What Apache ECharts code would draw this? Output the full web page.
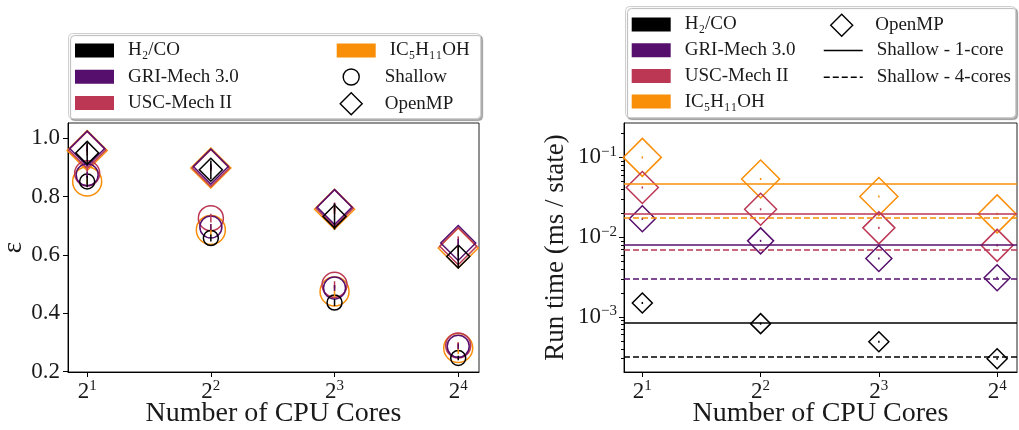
<!DOCTYPE html>
<html>
<head>
<meta charset="utf-8">
<script src="https://cdn.jsdelivr.net/npm/echarts@6/dist/echarts.min.js"></script>
<style>
html, body { margin: 0; padding: 0; background: #fff; }
#main { width: 1019px; height: 430px; }
</style>
</head>
<body>
<div id="main"></div>
<script>
// data
var cores = [2, 4, 8, 16];
var mechs = ['H₂/CO', 'GRI-Mech 3.0', 'USC-Mech II', 'IC₅H₁₁OH'];
var colors = ['#000000', '#560f6d', '#bb3754', '#f98e09'];

// parallel efficiency (left)
var effShallow = [
    [0.852, 0.658, 0.437, 0.247],
    [0.875, 0.696, 0.487, 0.287],
    [0.880, 0.726, 0.498, 0.290],
    [0.852, 0.686, 0.475, 0.281]
];
var effShallowErr = [
    [0.020, 0.012, 0.012, 0.008],
    [0.010, 0.010, 0.010, 0.010],
    [0.015, 0.015, 0.012, 0.010],
    [0.010, 0.020, 0.020, 0.020]
];
var effOmp = [
    [0.950, 0.892, 0.732, 0.595],
    [0.965, 0.903, 0.764, 0.641],
    [0.960, 0.898, 0.760, 0.630],
    [0.958, 0.898, 0.757, 0.624]
];
var effOmpErr = [
    [0.035, 0.032, 0.045, 0.040],
    [0.010, 0.010, 0.012, 0.015],
    [0.020, 0.010, 0.020, 0.034],
    [0.008, 0.006, 0.010, 0.010]
];

// run time, ms / state (right)
var timeOmp = [
    [0.00150, 0.000826, 0.00049, 0.00030],
    [0.0170, 0.0090, 0.0054, 0.0031],
    [0.0420, 0.0224, 0.0131, 0.0079],
    [0.1000, 0.0537, 0.0324, 0.0196]
];
var timeShallow1 = [0.00084, 0.0081, 0.0197, 0.047];
var timeShallow4 = [0.00032, 0.0030, 0.0069, 0.0173];

var effTicks = [0.2, 0.4, 0.6, 0.8, 1.0];
var timeTicks = [0.001, 0.01, 0.1];
var timeMinor = [];
[0.0001, 0.001, 0.01, 0.1].forEach(function (d) {
    for (var k = 2; k <= 9; k++) timeMinor.push(d * k);
});

var circleSize = [15, 22, 25, 29];
var diamondSizeL = [23, 35, 37, 40];
var diamondSizeR = [20, 26, 32, 38];

var FONT = 'Liberation Serif';
var TXT = '#1a1a1a';
var DIAMOND = 'path://M10,0L20,10L10,20L0,10Z';
var LOG_LO = -3.689, LOG_HI = -0.569;
var RIGHT_W = 393;

function expLabel(base, e) {
    return '{b|' + base + '}{e|' + e + '}';
}
var richTick = {
    b: { fontFamily: FONT, fontSize: 23, color: TXT, lineHeight: 26 },
    e: { fontFamily: FONT, fontSize: 15, color: TXT, lineHeight: 15, verticalAlign: 'top' }
};

function xAxisFor(grid) {
    return {
        type: 'log', logBase: 2, gridIndex: grid,
        min: Math.pow(2, 0.845), max: Math.pow(2, 4.168),
        name: 'Number of CPU Cores', nameLocation: 'middle', nameGap: 28, nameMoveOverlap: false,
        nameTextStyle: { fontFamily: FONT, fontSize: 28, color: TXT },
        axisLine: { show: true, onZero: false, lineStyle: { color: '#000', width: 1 } },
        axisTick: { show: true, length: 5, customValues: cores, lineStyle: { color: '#000' } },
        axisLabel: {
            customValues: cores, margin: 7, rich: richTick,
            formatter: function (v) { return expLabel('2', Math.round(Math.log2(v))); }
        },
        splitLine: { show: false }, minorTick: { show: false }
    };
}

function errBars(xi, yi, pts, color) {
    return {
        type: 'custom', xAxisIndex: xi, yAxisIndex: yi, silent: true, z: 4,
        data: pts,
        renderItem: function (params, api) {
            var a = api.coord([api.value(0), api.value(1)]);
            var b = api.coord([api.value(0), api.value(2)]);
            return {
                type: 'line',
                shape: { x1: a[0], y1: a[1], x2: b[0], y2: b[1] },
                style: { stroke: color, lineWidth: 1.5 }
            };
        }
    };
}

var series = [];
// draw orange first so black ends on top
for (var i = mechs.length - 1; i >= 0; i--) {
    var c = colors[i];
    var shallowPts = [], ompPts = [], errS = [], errO = [], timePts = [], errT = [];
    for (var j = 0; j < cores.length; j++) {
        shallowPts.push([cores[j], effShallow[i][j]]);
        ompPts.push([cores[j], effOmp[i][j]]);
        errS.push([cores[j], effShallow[i][j] - effShallowErr[i][j], effShallow[i][j] + effShallowErr[i][j]]);
        errO.push([cores[j], effOmp[i][j] - effOmpErr[i][j], effOmp[i][j] + effOmpErr[i][j]]);
        timePts.push([cores[j], timeOmp[i][j]]);
        errT.push([cores[j], timeOmp[i][j] * 0.97, timeOmp[i][j] * 1.03]);
    }
    var hollow = { color: 'rgba(0,0,0,0)', borderColor: c, borderWidth: 1.5, opacity: 1 };
    series.push({
        name: mechs[i], type: 'scatter', xAxisIndex: 0, yAxisIndex: 0,
        symbol: 'circle', symbolSize: circleSize[i], itemStyle: hollow, data: shallowPts, z: 3
    });
    series.push({
        name: mechs[i], type: 'scatter', xAxisIndex: 0, yAxisIndex: 0,
        symbol: 'diamond', symbolSize: diamondSizeL[i], itemStyle: hollow, data: ompPts, z: 3
    });
    series.push(errBars(0, 0, errS, c));
    series.push(errBars(0, 0, errO, c));
    series.push({
        name: mechs[i], type: 'scatter', xAxisIndex: 1, yAxisIndex: 1,
        symbol: 'diamond', symbolSize: diamondSizeR[i], itemStyle: hollow, data: timePts, z: 3,
        markLine: {
            silent: true, symbol: 'none', label: { show: false }, animation: false, precision: 8,
            emphasis: { disabled: true },
            data: [
                { yAxis: timeShallow1[i], lineStyle: { color: c, width: 1.5, type: 'solid', opacity: 1 } },
                { yAxis: timeShallow4[i], lineStyle: { color: c, width: 1.5, type: [6, 3], opacity: 1 } }
            ]
        }
    });
    series.push(errBars(1, 1, errT, c));
}
// legend-only entries
series.push({ name: 'Shallow', type: 'scatter', xAxisIndex: 0, yAxisIndex: 0, symbol: 'circle', data: [] });
series.push({ name: 'OpenMP', type: 'scatter', xAxisIndex: 0, yAxisIndex: 0, symbol: 'diamond', data: [] });
series.push({ name: 'Shallow - 1-core', type: 'line', xAxisIndex: 1, yAxisIndex: 1, symbol: 'none', data: [],
    itemStyle: { color: '#000' }, lineStyle: { color: '#000', width: 1.5, type: 'solid' } });
series.push({ name: 'Shallow - 4-cores', type: 'line', xAxisIndex: 1, yAxisIndex: 1, symbol: 'none', data: [],
    itemStyle: { color: '#000' }, lineStyle: { color: '#000', width: 1.5, type: [6, 3] } });
series.push({ type: 'scatter', xAxisIndex: 1, yAxisIndex: 2, data: [], silent: true });

function patch(k) {
    return { name: mechs[k], icon: 'rect', itemStyle: { color: colors[k], borderWidth: 0, opacity: 1 } };
}
var markerStyle = { color: '#fff', borderColor: '#000', borderWidth: 1.4, opacity: 1 };
var noDot = { color: 'rgba(0,0,0,0)', borderColor: 'rgba(0,0,0,0)', borderWidth: 0 };
var lgText = { fontFamily: FONT, fontSize: 19, color: TXT, lineHeight: 20, padding: [0, 0, 0, 9] };
function legendBox(left, top, gap, ih, data) {
    return {
        orient: 'vertical', left: left, top: top, itemGap: gap, padding: 0,
        itemWidth: 39, itemHeight: ih, textStyle: lgText, selectedMode: false,
        data: data, z: 5
    };
}

var chart = echarts.init(document.getElementById('main'));
chart.setOption({
    animation: false,
    backgroundColor: '#fff',
    grid: [
        { left: 68, top: 123, width: 411, height: 249, show: true, borderColor: '#222', borderWidth: 1,
          backgroundColor: '#fff', outerBoundsMode: 'none' },
        { left: 624, top: 123, width: RIGHT_W, height: 249, show: true, borderColor: '#222', borderWidth: 1,
          backgroundColor: '#fff', outerBoundsMode: 'none' }
    ],
    xAxis: [xAxisFor(0), xAxisFor(1)],
    yAxis: [
        {
            type: 'value', gridIndex: 0, min: 0.199, max: 1.0524,
            name: 'ε', nameLocation: 'middle', nameGap: 40,
            nameTextStyle: { fontFamily: FONT, fontSize: 27, color: TXT },
            axisLine: { show: true, onZero: false, lineStyle: { color: '#000' } },
            axisTick: { show: true, length: 5, customValues: effTicks, lineStyle: { color: '#000' } },
            axisLabel: {
                customValues: effTicks, margin: 8, fontFamily: FONT, fontSize: 23, color: TXT,
                formatter: function (v) { return v.toFixed(1); }
            },
            splitLine: { show: false }
        },
        {
            type: 'log', logBase: 10, gridIndex: 1, position: 'left',
            min: Math.pow(10, LOG_LO), max: Math.pow(10, LOG_HI),
            name: 'Run time (ms / state)', nameLocation: 'middle', nameGap: 55,
            nameTextStyle: { fontFamily: FONT, fontSize: 27, color: TXT },
            axisLine: { show: true, onZero: false, lineStyle: { color: '#000' } },
            axisTick: { show: true, length: 5, customValues: timeTicks, lineStyle: { color: '#000' } },
            axisLabel: {
                customValues: timeTicks, margin: 7, rich: richTick,
                formatter: function (v) { return expLabel('10', '−' + Math.round(-Math.log10(v))); }
            },
            splitLine: { show: false }, minorTick: { show: false }
        },
        {
            // minor ticks of the log axis (log10 space), moved onto the left edge
            type: 'value', gridIndex: 1, position: 'right', offset: -RIGHT_W,
            min: LOG_LO, max: LOG_HI,
            axisLine: { show: false },
            axisTick: { show: true, inside: true, length: 3, customValues: timeMinor.map(Math.log10),
                        lineStyle: { color: '#000', width: 1 } },
            axisLabel: { show: false }, splitLine: { show: false }
        }
    ],
    legend: [
        legendBox(75, 40.5, 6.3, 14, [patch(0), patch(1), patch(2)]),
        legendBox(336.7, 40.5, 6.3, 14, [patch(3)]),
        legendBox(342.5, 67, 0, 16, [{ name: 'Shallow', icon: 'circle', itemStyle: markerStyle }]),
        legendBox(339.5, 92, 0, 22, [{ name: 'OpenMP', icon: DIAMOND, itemStyle: markerStyle }]),
        legendBox(631.7, 14.5, 5.7, 14, [patch(0), patch(1), patch(2), patch(3)]),
        legendBox(830, 13.5, 0, 22, [{ name: 'OpenMP', icon: DIAMOND, itemStyle: markerStyle }]),
        legendBox(823, 40.5, 6.7, 14, [
            { name: 'Shallow - 1-core', itemStyle: noDot, lineStyle: { color: '#000', width: 1.5, type: 'solid' } },
            { name: 'Shallow - 4-cores', itemStyle: noDot, lineStyle: { color: '#000', width: 1.5, type: [6, 3] } }])
    ],
    graphic: [
        { type: 'rect', z: 1, shape: { x: 68.5, y: 33.5, width: 412, height: 85, r: 4 },
          style: { fill: '#fff', stroke: '#cfcfcf', lineWidth: 1,
                   shadowColor: 'rgba(0,0,0,0.3)', shadowOffsetX: 2, shadowOffsetY: 2, shadowBlur: 1 } },
        { type: 'rect', z: 1, shape: { x: 625.5, y: 6.5, width: 390, height: 111, r: 4 },
          style: { fill: '#fff', stroke: '#cfcfcf', lineWidth: 1,
                   shadowColor: 'rgba(0,0,0,0.3)', shadowOffsetX: 2, shadowOffsetY: 2, shadowBlur: 1 } }
    ],
    series: series
});
</script>
</body>
</html>
